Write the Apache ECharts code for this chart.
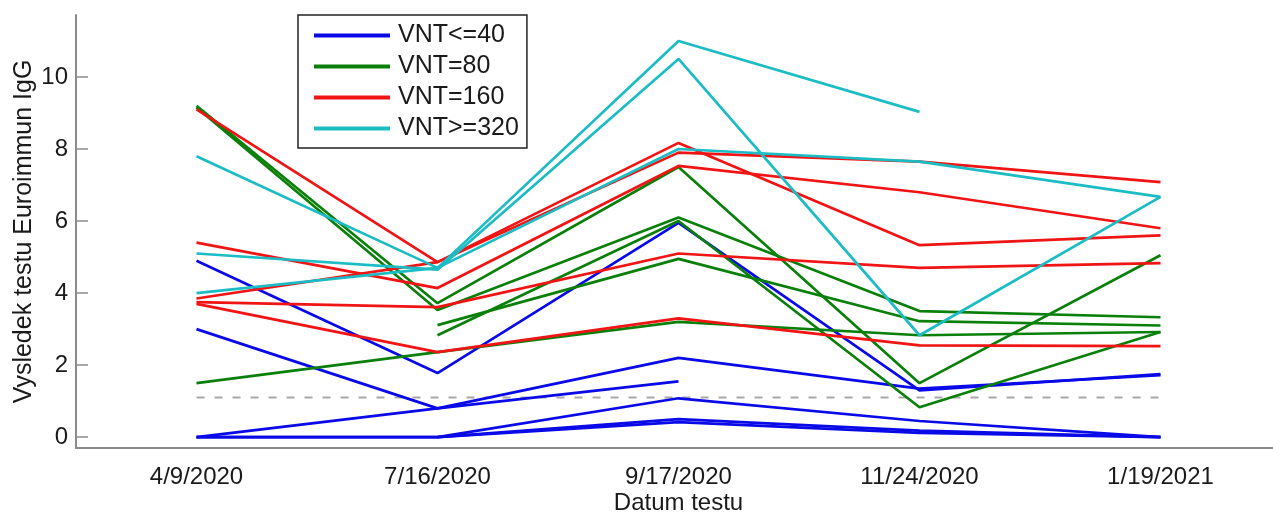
<!DOCTYPE html>
<html>
<head>
<meta charset="utf-8">
<script src="https://cdn.jsdelivr.net/npm/echarts@6/dist/echarts.min.js"></script>
<style>
  html, body { margin: 0; padding: 0; background: #fff; }
  #chart { width: 1273px; height: 512px; }
</style>
</head>
<body>
<div id="chart"></div>
<script>
// datumy testu
const dates = ['4/9/2020', '7/16/2020', '9/17/2020', '11/24/2020', '1/19/2021']
const yTicks = [0, 2, 4, 6, 8, 10]
const cutoff = 1.1

// VNT<=40
const vnt40 = [
    [4.9, 1.78, 5.95, 1.3, 1.75],
    [3.0, 0.8, 2.2, 1.35, 1.72],
    [0, 0.8, 1.55, null, null],
    [0, 0, 1.08, 0.45, 0],
    [0, 0, 0.5, 0.18, 0],
    [null, 0, 0.42, 0.12, 0]
]
// VNT=80
const vnt80 = [
    [9.2, 3.72, 7.5, 1.5, 5.05],
    [9.15, 3.53, 6.1, 3.5, 3.33],
    [1.5, 2.36, 3.2, 2.83, 2.92],
    [null, 3.11, 4.95, 3.22, 3.1],
    [null, 2.83, 6.0, 0.83, 2.92]
]
// VNT=160
const vnt160 = [
    [9.1, 4.86, 8.17, 5.33, 5.6],
    [3.85, 4.86, 7.9, 7.65, 7.08],
    [5.4, 4.14, 7.53, 6.8, 5.8],
    [3.75, 3.61, 5.1, 4.7, 4.83],
    [3.7, 2.36, 3.3, 2.55, 2.53]
]
// VNT>=320
const vnt320 = [
    [7.8, 4.7, 11.0, 9.03, null],
    [5.1, 4.65, 10.5, 2.83, 6.67],
    [4.0, 4.7, 8.0, 7.65, 6.67]
]

const groups = [
    { name: 'VNT<=40', color: '#0a0ae8', rows: vnt40 },
    { name: 'VNT=80', color: '#0a800a', rows: vnt80 },
    { name: 'VNT=160', color: '#f01414', rows: vnt160 },
    { name: 'VNT>=320', color: '#1cbcc4', rows: vnt320 }
]

const font = 'Liberation Sans, Arial, sans-serif'
const axisGray = '#8a8a8a'

const series = [{
    type: 'line',
    data: dates.map(() => cutoff),
    showSymbol: false,
    silent: true,
    lineStyle: { color: '#a8a8a8', width: 2, type: [8, 10] },
    z: 1
}]
groups.forEach(g => {
    g.rows.forEach(row => {
        series.push({
            name: g.name,
            type: 'line',
            data: row,
            color: g.color,
            showSymbol: false,
            connectNulls: false,
            lineStyle: { color: g.color, width: 2.7 },
            z: 2
        })
    })
})

const chart = echarts.init(document.getElementById('chart'))
chart.setOption({
    animation: false,
    grid: { left: 76, right: -8, top: 15, bottom: 64, outerBoundsMode: 'none' },
    legend: {
        data: groups.map(g => g.name),
        orient: 'vertical',
        left: 298,
        top: 15,
        icon: 'rect',
        itemWidth: 76,
        itemHeight: 4,
        itemGap: 6,
        padding: [8, 8, 7, 16],
        borderColor: '#222',
        borderWidth: 1.5,
        backgroundColor: '#fff',
        textStyle: { fontFamily: font, fontSize: 25, color: '#1a1a1a', lineHeight: 25, padding: [0, 0, 0, 3] }
    },
    xAxis: {
        type: 'category',
        data: dates,
        boundaryGap: true,
        name: 'Datum testu',
        nameLocation: 'middle',
        nameGap: 43,
        nameMoveOverlap: false,
        nameTextStyle: { fontFamily: font, fontSize: 24, color: '#1a1a1a' },
        axisLine: { onZero: false, lineStyle: { color: axisGray, width: 2 } },
        axisTick: { alignWithLabel: true, inside: true, length: 12, lineStyle: { color: axisGray, width: 1.5 } },
        axisLabel: { fontFamily: font, fontSize: 24, color: '#1a1a1a', margin: 17 },
        splitLine: { show: false }
    },
    yAxis: {
        type: 'value',
        min: -0.3,
        max: 11.72,
        name: 'Vysledek testu Euroimmun IgG',
        nameLocation: 'middle',
        nameRotate: 90,
        nameGap: 39,
        nameMoveOverlap: false,
        nameTextStyle: { fontFamily: font, fontSize: 25, color: '#1a1a1a' },
        axisLine: { show: true, lineStyle: { color: axisGray, width: 2 } },
        axisTick: { show: true, inside: true, length: 12, customValues: yTicks, lineStyle: { color: axisGray, width: 1.5 } },
        axisLabel: { fontFamily: font, fontSize: 24, color: '#1a1a1a', margin: 8, customValues: yTicks },
        splitLine: { show: false }
    },
    series: series
})
</script>
</body>
</html>
